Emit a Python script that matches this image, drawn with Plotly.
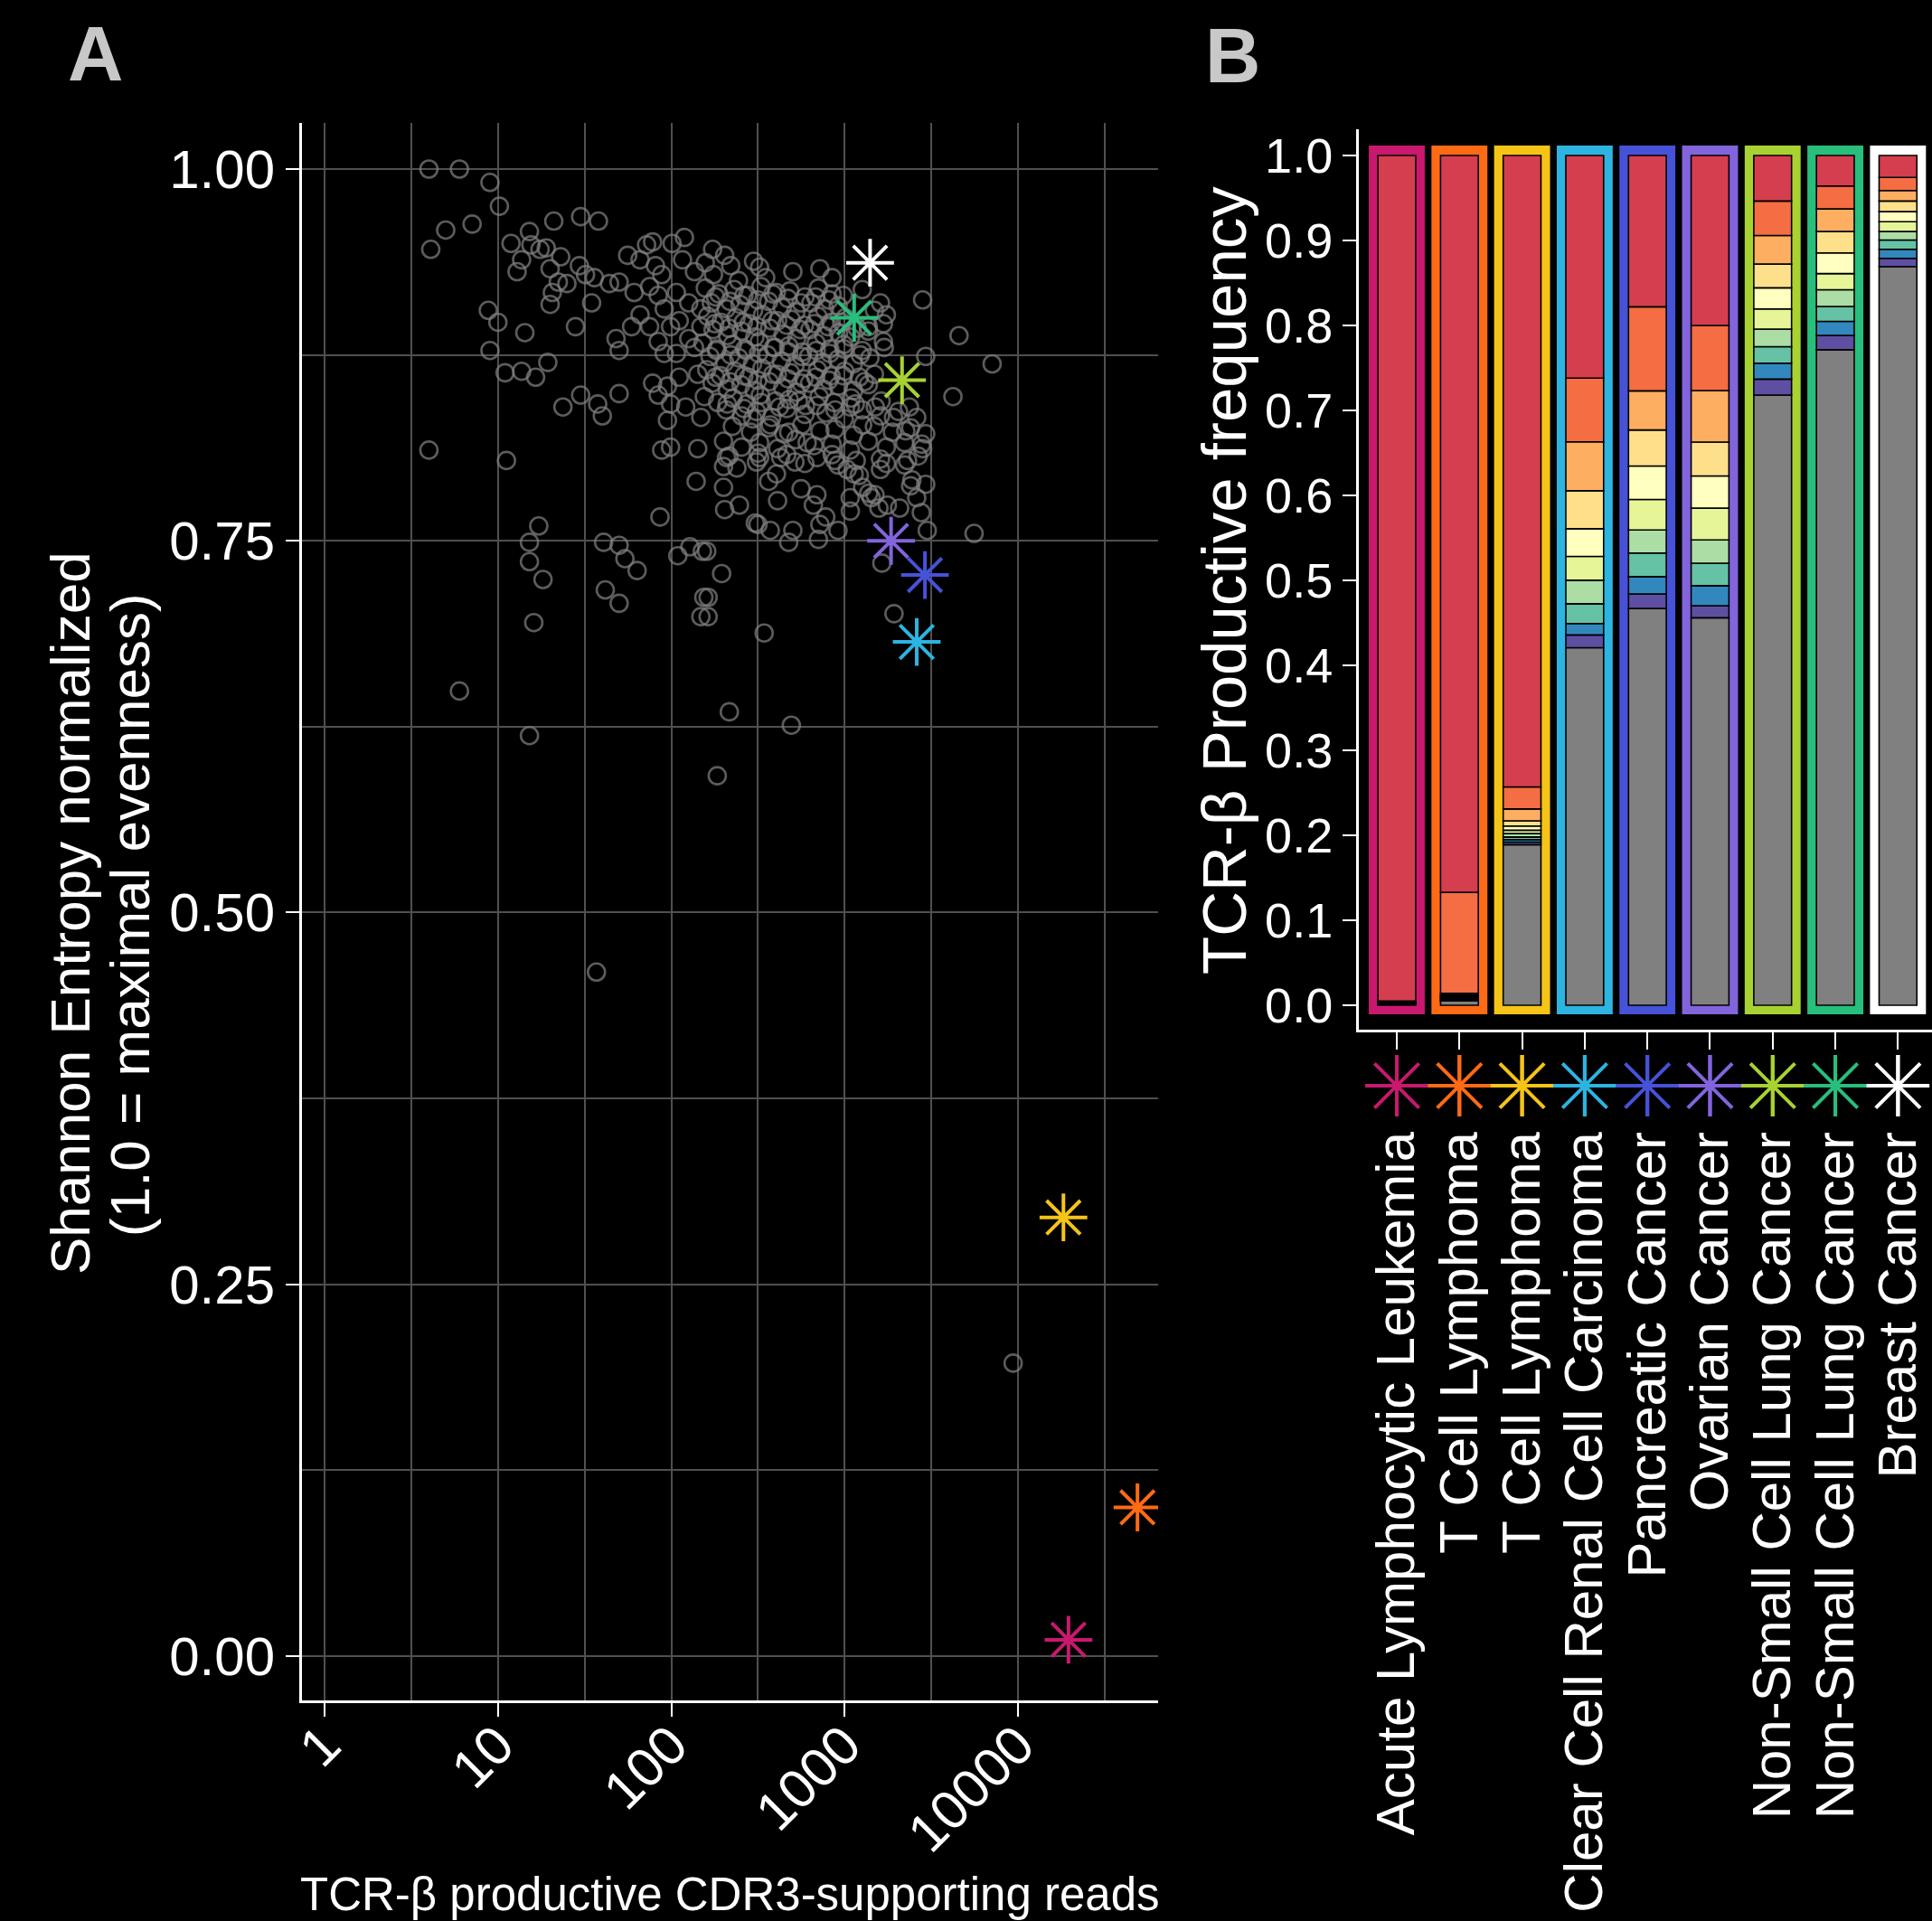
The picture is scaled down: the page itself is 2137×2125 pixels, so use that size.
import plotly.graph_objects as go
import numpy as np

# ---------------- Panel A data ----------------
cloud_reads = [
    4.0, 6.0, 9.0, 10.2, 5.0, 7.1, 4.1, 21, 30, 38, 15.2, 11.9, 15.5, 17.5, 19, 23, 13.7, 12.9, 20, 22.3,
    29.5, 32, 36, 25, 20.6, 20, 34.7, 44, 50, 56, 61, 72, 78, 101, 119, 66, 81, 88, 116, 136,
    75, 84, 91, 107, 126, 148, 66, 59, 48, 50, 75, 84, 99, 111, 126, 148, 91, 107, 136, 8.8,
    10, 14.3, 28, 9.0, 11, 13.7, 16.5, 19.4, 23.7, 30, 37.6, 40, 50, 78, 84, 95, 111, 142, 99, 121,
    148, 95, 88, 99, 142, 4.0, 11.2,
    139, 86, 17.2, 15.2, 15.2, 18.2, 16.1, 6.0, 40.7, 50, 54, 63.5, 41.6, 50, 109, 128, 151, 154, 148, 15.2,
    200, 208, 323, 463, 879, 1033, 1213, 1607, 1738, 2303, 364, 410, 691, 1075, 1422, 1574, 2399, 2930, 2600, 2763,
    203, 316, 502, 719, 705, 2990, 5570, 160, 195, 163, 163, 1637, 1923, 343, 216, 492, 184,
    9354, 37,
    173, 203, 220, 298, 323, 350, 502, 719, 845, 175, 244, 157,
    2812, 4560, 7080, 2930, 4207, 1738, 1607, 1671, 1368,
    157, 188, 230, 275, 329, 403, 482, 589, 705, 845, 1262,
    170, 207, 249, 298, 364, 436, 522, 638, 764, 916, 1483,
    162, 193, 236, 281, 336, 410, 490, 585, 700, 835, 1005, 1671,
    174, 211, 254, 303, 369, 441, 528, 630, 757, 921, 1080, 1368,
    152, 183, 225, 270, 322, 396, 475, 570, 684, 820, 985, 1262, 1690,
    167, 203, 245, 294, 359, 431, 516, 620, 744, 910, 1119, 1396,
    160, 192, 233, 279, 333, 408, 487, 581, 697, 833, 999, 1213, 1483,
    172, 210, 252, 301, 367, 439, 525, 628, 753, 919, 1125, 1368,
    155, 185, 227, 272, 326, 399, 478, 594, 712, 870, 1090,
    207, 254, 310, 379, 463, 589, 780, 993, 1262, 1607, 2042, 2600,
    225, 286, 364, 445, 566, 719, 879, 1119, 1483, 1884, 2399, 2930,
    200, 254, 323, 410, 522, 664, 845, 1075, 1368, 1738, 2213, 2812,
    215, 310, 427, 589, 845, 1165, 1607, 2213,
    295, 372, 475, 607, 692, 914, 1132, 1268, 1494, 1760, 2072, 2440, 2650, 2250, 1910, 1268, 1077, 1620,
    2360, 2780, 404, 560, 659, 777, 914, 1077, 1374, 516, 316, 239, 200, 247, 305, 372, 475,
    180, 218, 262, 315, 385, 470, 560, 680, 810, 980,
    178, 215, 260, 312, 380, 462, 555, 668, 800, 960, 1180,
    182, 220, 265, 318, 388, 475, 565, 685, 820, 990, 1230,
    180, 218, 262, 315, 385, 470, 560, 680, 810, 980, 1300,
    210, 262, 330, 420, 540, 690, 880, 1150, 1500,
]
cloud_entropy = [
    1.000, 1.000, 0.991, 0.975, 0.959, 0.963, 0.946, 0.965, 0.968, 0.965, 0.958, 0.950, 0.949, 0.946, 0.947, 0.941, 0.939, 0.931, 0.933, 0.924,
    0.935, 0.929, 0.927, 0.923, 0.917, 0.909, 0.910, 0.923, 0.924, 0.942, 0.917, 0.949, 0.951, 0.950, 0.954, 0.939, 0.935, 0.929, 0.939, 0.931,
    0.921, 0.915, 0.906, 0.917, 0.910, 0.906, 0.902, 0.894, 0.886, 0.878, 0.894, 0.884, 0.894, 0.898, 0.886, 0.894, 0.876, 0.876, 0.880, 0.905,
    0.897, 0.890, 0.894, 0.878, 0.863, 0.864, 0.860, 0.870, 0.840, 0.848, 0.842, 0.834, 0.849, 0.856, 0.848, 0.854, 0.860, 0.862, 0.842, 0.840,
    0.833, 0.831, 0.811, 0.813, 0.812, 0.811, 0.804,
    0.790, 0.766, 0.760, 0.749, 0.736, 0.724, 0.695, 0.649, 0.749, 0.747, 0.738, 0.730, 0.717, 0.708, 0.740, 0.746, 0.743, 0.712, 0.699, 0.619,
    0.800, 0.806, 0.806, 0.808, 0.804, 0.798, 0.794, 0.798, 0.802, 0.804, 0.790, 0.777, 0.781, 0.779, 0.779, 0.772, 0.787, 0.788, 0.779, 0.769,
    0.771, 0.761, 0.757, 0.761, 0.751, 0.757, 0.755, 0.743, 0.728, 0.712, 0.699, 0.735, 0.701, 0.688, 0.635, 0.626, 0.592,
    0.197, 0.460,
    0.946, 0.942, 0.935, 0.938, 0.934, 0.927, 0.931, 0.933, 0.927, 0.929, 0.925, 0.937,
    0.912, 0.888, 0.869, 0.874, 0.847, 0.902, 0.910, 0.884, 0.894,
    0.920, 0.916, 0.919, 0.915, 0.921, 0.917, 0.918, 0.914, 0.920, 0.916, 0.919,
    0.910, 0.906, 0.909, 0.905, 0.911, 0.907, 0.904, 0.910, 0.906, 0.908, 0.905,
    0.901, 0.897, 0.900, 0.896, 0.902, 0.898, 0.899, 0.895, 0.901, 0.897, 0.900, 0.896,
    0.892, 0.888, 0.891, 0.887, 0.893, 0.889, 0.886, 0.892, 0.888, 0.890, 0.887, 0.891,
    0.883, 0.879, 0.882, 0.878, 0.884, 0.880, 0.881, 0.877, 0.883, 0.879, 0.882, 0.878, 0.880,
    0.874, 0.870, 0.873, 0.869, 0.875, 0.871, 0.868, 0.874, 0.870, 0.872, 0.869, 0.873,
    0.865, 0.861, 0.864, 0.860, 0.866, 0.862, 0.863, 0.859, 0.865, 0.861, 0.864, 0.860, 0.862,
    0.856, 0.852, 0.855, 0.851, 0.857, 0.853, 0.850, 0.856, 0.852, 0.854, 0.851, 0.855,
    0.847, 0.843, 0.846, 0.842, 0.848, 0.844, 0.845, 0.841, 0.847, 0.843, 0.846,
    0.838, 0.834, 0.837, 0.833, 0.839, 0.835, 0.836, 0.832, 0.838, 0.834, 0.837, 0.833,
    0.827, 0.823, 0.826, 0.822, 0.828, 0.824, 0.825, 0.821, 0.827, 0.823, 0.826, 0.822,
    0.817, 0.813, 0.816, 0.812, 0.818, 0.814, 0.815, 0.811, 0.817, 0.813, 0.816, 0.812,
    0.807, 0.803, 0.806, 0.802, 0.808, 0.804, 0.805, 0.801,
    0.832, 0.828, 0.823, 0.816, 0.806, 0.801, 0.795, 0.786, 0.781, 0.774, 0.772, 0.791, 0.807, 0.824, 0.833, 0.828, 0.840, 0.844,
    0.840, 0.815, 0.795, 0.785, 0.774, 0.766, 0.757, 0.770, 0.782, 0.803, 0.809, 0.799, 0.786, 0.774, 0.762, 0.757, 0.749,
    0.914, 0.911, 0.915, 0.912, 0.916, 0.913, 0.910, 0.914, 0.912, 0.915,
    0.896, 0.893, 0.897, 0.894, 0.898, 0.895, 0.892, 0.896, 0.894, 0.897, 0.893,
    0.878, 0.875, 0.879, 0.876, 0.880, 0.877, 0.874, 0.878, 0.876, 0.879, 0.875,
    0.860, 0.857, 0.861, 0.858, 0.862, 0.859, 0.856, 0.860, 0.858, 0.861, 0.857,
    0.842, 0.839, 0.843, 0.840, 0.844, 0.841, 0.838, 0.842, 0.840,
]

cancer_types = [
    "Acute Lymphocytic Leukemia", "T Cell Lymphoma", "T Cell Lymphoma",
    "Clear Cell Renal Cell Carcinoma", "Pancreatic Cancer", "Ovarian Cancer",
    "Non-Small Cell Lung Cancer", "Non-Small Cell Lung Cancer", "Breast Cancer",
]
cancer_colors = ["#C8196E", "#FF6A14", "#F5C417", "#2DB4E0", "#4652D8", "#8264DD",
                 "#A8D232", "#28BE7C", "#FFFFFF"]
highlight_reads = [19500, 48750, 18240, 2600, 2900, 1850, 2140, 1133, 1400]
highlight_entropy = [0.011, 0.100, 0.295, 0.682, 0.727, 0.750, 0.858, 0.900, 0.937]

x_tick_vals = [1, 10, 100, 1000, 10000]
x_tick_text = ["1", "10", "100", "1000", "10000"]
x_minor_vals = [10 ** 0.5, 10 ** 1.5, 10 ** 2.5, 10 ** 3.5, 10 ** 4.5]

# ---------------- Panel B data ----------------
clone_rank1 = [0.995, 0.867, 0.743, 0.262, 0.178, 0.200, 0.0535, 0.0359, 0.0258]
clone_rank2 = [0.001, 0.119, 0.026, 0.075, 0.099, 0.0766, 0.0406, 0.0269, 0.0154]
clone_rank3 = [0.0005, 0.002, 0.014, 0.0575, 0.046, 0.0606, 0.0336, 0.0266, 0.0123]
clone_rank4 = [0.0005, 0.001, 0.006, 0.0447, 0.0424, 0.0399, 0.028, 0.0252, 0.0125]
clone_rank5 = [0.0003, 0.001, 0.005, 0.0326, 0.0393, 0.0379, 0.0248, 0.0243, 0.0119]
clone_rank6 = [0.0003, 0.001, 0.004, 0.028, 0.0359, 0.0374, 0.0237, 0.0191, 0.0115]
clone_rank7 = [0.0003, 0.001, 0.004, 0.0277, 0.0272, 0.0274, 0.0207, 0.0196, 0.0101]
clone_rank8 = [0.0003, 0.001, 0.003, 0.0233, 0.0278, 0.0264, 0.0195, 0.0175, 0.0109]
clone_rank9 = [0.0003, 0.001, 0.003, 0.0134, 0.0203, 0.0236, 0.0187, 0.0166, 0.0106]
clone_rank10 = [0.0003, 0.001, 0.003, 0.0151, 0.0172, 0.0142, 0.0188, 0.0168, 0.0098]
clone_colors = ["#D53E4F", "#F46D43", "#FDAE61", "#FEE08B", "#FFFFBF",
                "#E6F598", "#ABDDA4", "#66C2A5", "#3288BD", "#5E4FA2"]
other_color = "#808080"
b_tick_vals = [0.0, 0.1, 0.2, 0.3, 0.4, 0.5, 0.6, 0.7, 0.8, 0.9, 1.0]

# ---------------- Figure ----------------
W, H = 2137, 2125
FONT = "Liberation Sans, Arial, Helvetica, sans-serif"
GRID = "#505050"


def px(xp):
    return xp / W


def py(yp):
    return 1 - yp / H


fig = go.Figure()

# Panel A: cloud of samples
fig.add_trace(go.Scatter(
    x=cloud_reads, y=cloud_entropy, mode="markers", xaxis="x", yaxis="y",
    marker=dict(symbol="circle-open", size=19, color="rgba(128,128,128,0.72)",
                line=dict(width=2.6)),
    hoverinfo="skip", showlegend=False))
# Panel A: highlighted samples
fig.add_trace(go.Scatter(
    x=highlight_reads, y=highlight_entropy, mode="markers", xaxis="x", yaxis="y",
    marker=dict(symbol="asterisk-open", size=44, color=cancer_colors,
                line=dict(width=4, color=cancer_colors)),
    hoverinfo="skip", showlegend=False))

# Panel B: coloured frames behind each stacked bar
cats = list(range(len(cancer_types)))
frame_bottom, frame_top = -0.0106, 1.0117
fig.add_trace(go.Bar(
    x=cats, y=[frame_top - frame_bottom] * len(cats), base=[frame_bottom] * len(cats),
    width=0.893, xaxis="x2", yaxis="y2",
    marker=dict(color=cancer_colors, line=dict(width=0)),
    hoverinfo="skip", showlegend=False))

ranks = [clone_rank1, clone_rank2, clone_rank3, clone_rank4, clone_rank5,
         clone_rank6, clone_rank7, clone_rank8, clone_rank9, clone_rank10]
ranks_arr = np.array(ranks)
other = 1.0 - ranks_arr.sum(axis=0)
segments = [(other, other_color)] + [(ranks_arr[k], clone_colors[k]) for k in range(9, -1, -1)]
base = np.zeros(len(cats))
for vals, col in segments:
    fig.add_trace(go.Bar(
        x=cats, y=vals, base=base.copy(), width=0.603, xaxis="x2", yaxis="y2",
        marker=dict(color=col, line=dict(color="black", width=1.6)),
        hoverinfo="skip", showlegend=False))
    base = base + vals

# Panel B: colour key row (line + asterisk)
for i, c in enumerate(cancer_colors):
    fig.add_trace(go.Scatter(
        x=[i - 0.5, i + 0.5], y=[0, 0], mode="lines", xaxis="x3", yaxis="y3",
        line=dict(color=c, width=4), hoverinfo="skip", showlegend=False))
fig.add_trace(go.Scatter(
    x=cats, y=[0] * len(cats), mode="markers", xaxis="x3", yaxis="y3",
    marker=dict(symbol="asterisk-open", size=58, color=cancer_colors,
                line=dict(width=4, color=cancer_colors)),
    hoverinfo="skip", showlegend=False))
fig.add_trace(go.Scatter(
    x=cats, y=[0] * len(cats), mode="markers", xaxis="x3", yaxis="y3",
    marker=dict(symbol="line-ns-open", size=66, color=cancer_colors,
                line=dict(width=4, color=cancer_colors)),
    hoverinfo="skip", showlegend=False))

b_xrange = [-0.606, 8.543]

fig.update_layout(
    width=W, height=H,
    margin=dict(l=0, r=0, t=0, b=0, autoexpand=False),
    paper_bgcolor="black", plot_bgcolor="black",
    font=dict(family=FONT, color="white"),
    showlegend=False,
    barmode="overlay",
    xaxis=dict(
        domain=[px(334), px(1281)], anchor="y", type="log", range=[-0.130, 4.807],
        automargin=False,
        tickmode="array", tickvals=x_tick_vals, ticktext=x_tick_text, tickangle=-45,
        tickfont=dict(size=60, color="white", family=FONT),
        ticklabelstandoff=-28,
        showline=True, linecolor="white", linewidth=3,
        ticks="outside", ticklen=15, tickwidth=2, tickcolor="white",
        showgrid=True, gridcolor=GRID, gridwidth=1.5, zeroline=False,
        minor=dict(tickmode="array", tickvals=x_minor_vals, showgrid=True,
                   gridcolor=GRID, gridwidth=1.5, ticks=""),
    ),
    yaxis=dict(
        domain=[py(1881), py(136)], anchor="x", range=[-0.0298, 1.031],
        automargin=False,
        tickmode="array", tickvals=[0, 0.25, 0.5, 0.75, 1.0], tickformat=".2f",
        tickfont=dict(size=60, color="white", family=FONT),
        showline=True, linecolor="white", linewidth=3,
        ticks="outside", ticklen=15, tickwidth=2, tickcolor="white",
        showgrid=True, gridcolor=GRID, gridwidth=1.5, zeroline=False,
        minor=dict(dtick=0.125, showgrid=True, gridcolor=GRID, gridwidth=1.5, ticks=""),
    ),
    xaxis2=dict(
        domain=[px(1503), 1.0], anchor="y2", range=b_xrange, automargin=False,
        tickmode="array", tickvals=cats, showticklabels=False,
        showline=True, linecolor="white", linewidth=3,
        ticks="outside", ticklen=19, tickwidth=2, tickcolor="white",
        showgrid=False, zeroline=False,
    ),
    yaxis2=dict(
        domain=[py(1139), py(143)], anchor="x2", range=[-0.0287, 1.0309], automargin=False,
        tickmode="array", tickvals=b_tick_vals, tickformat=".1f",
        tickfont=dict(size=54, color="white", family=FONT),
        showline=True, linecolor="white", linewidth=3,
        ticks="outside", ticklen=15, tickwidth=2, tickcolor="white",
        showgrid=False, zeroline=False,
    ),
    xaxis3=dict(
        domain=[px(1503), 1.0], anchor="y3", range=b_xrange, automargin=False,
        tickmode="array", tickvals=cats, ticktext=cancer_types, tickangle=-90,
        tickfont=dict(size=60, color="white", family=FONT),
        showline=False, ticks="", showgrid=False, zeroline=False,
        ticklabelstandoff=4,
    ),
    yaxis3=dict(
        domain=[py(1235), py(1167)], anchor="x3", range=[-1, 1], visible=False,
        automargin=False,
    ),
)

annotations = [
    dict(text="<b>A</b>", x=px(105), y=py(60), font=dict(size=85, color="#C8C8C8")),
    dict(text="<b>B</b>", x=px(1363), y=py(62), font=dict(size=85, color="#C8C8C8")),
    dict(text="Shannon Entropy normalized", x=px(77), y=py(1010), textangle=-90,
         font=dict(size=62, color="white")),
    dict(text="(1.0 = maximal evenness)", x=px(143), y=py(1012), textangle=-90,
         font=dict(size=62, color="white")),
    dict(text="TCR-β productive CDR3-supporting reads", x=px(807), y=py(2095),
         font=dict(size=51, color="white")),
    dict(text="TCR-β Productive frequency", x=px(1354), y=py(642), textangle=-90,
         font=dict(size=69, color="white")),
]
for a in annotations:
    a.update(xref="paper", yref="paper", showarrow=False, xanchor="center", yanchor="middle")
    a["font"]["family"] = FONT
fig.update_layout(annotations=annotations)

page_fix = ("document.body.style.margin='0';document.body.style.padding='0';"
            "document.body.style.overflow='hidden';document.body.style.background='black';"
            "document.documentElement.style.background='black';")
fig.write_html("out.html", post_script=page_fix, config={"displayModeBar": False})
